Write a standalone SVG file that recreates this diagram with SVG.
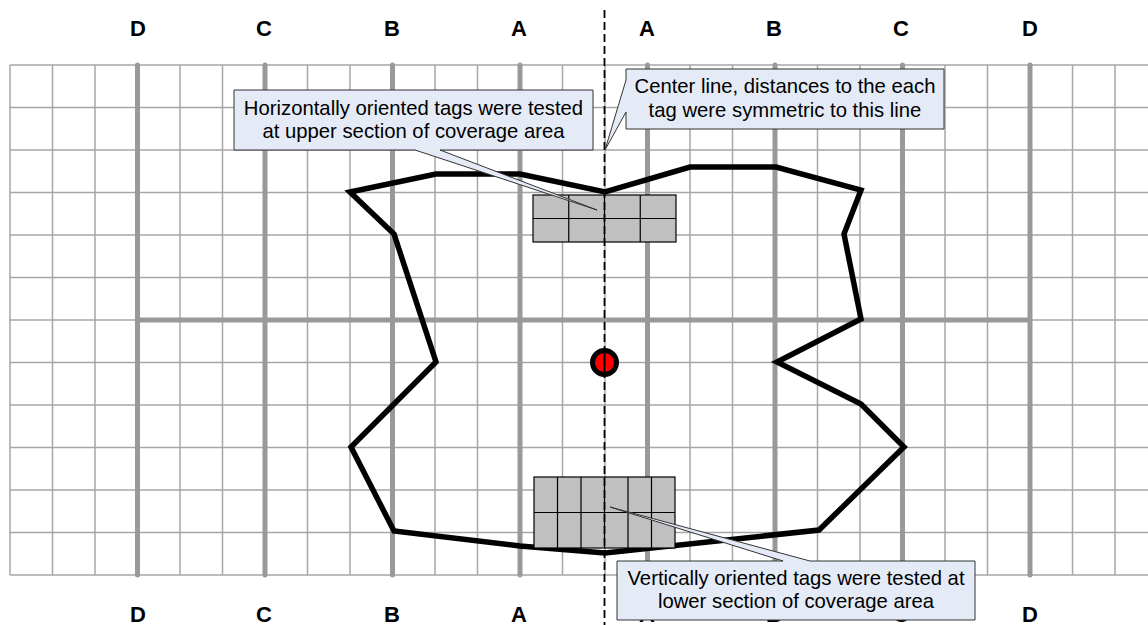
<svg xmlns="http://www.w3.org/2000/svg" width="1148" height="625" viewBox="0 0 1148 625">
<style>
.thin{stroke:#a6a6a6;stroke-width:1.5;fill:none}
.thick{stroke:#999999;stroke-width:5;stroke-linecap:round;fill:none}
.lbl{font-family:"Liberation Sans",Arial,sans-serif;font-size:22px;font-weight:bold;text-anchor:middle;fill:#000}
.ct{font-family:"Liberation Sans",Arial,sans-serif;font-size:20.3px;text-anchor:middle;fill:#000}
.callout{fill:#e4ebf6;stroke:#333;stroke-width:1}
.tag{fill:#c0c0c0;stroke:#000;stroke-width:1.2}
</style>
<rect width="1148" height="625" fill="#fff"/>
<g id="grid">
<path class="thin" d="M10,65V575M52.5,65V575M95,65V575M137.5,65V575M180,65V575M222.5,65V575M265,65V575M307.5,65V575M350,65V575M392.5,65V575M435,65V575M477.5,65V575M520,65V575M562.5,65V575M605,65V575M647.5,65V575M690,65V575M732.5,65V575M775,65V575M817.5,65V575M860,65V575M902.5,65V575M945,65V575M987.5,65V575M1030,65V575M1072.5,65V575M1115,65V575"/>
<path class="thin" d="M10,65H1148M10,107.5H1148M10,150H1148M10,192.5H1148M10,235H1148M10,277.5H1148M10,320H1148M10,362.5H1148M10,405H1148M10,447.5H1148M10,490H1148M10,532.5H1148M10,575H1148"/>
<path class="thick" d="M137.5,65V575M265,65V575M392.5,65V575M520,65V575M647.5,65V575M775,65V575M902.5,65V575M1030,65V575M137.5,320H1030"/>
</g>
<g id="labels">
<text class="lbl" x="138" y="36">D</text>
<text class="lbl" x="264" y="36">C</text>
<text class="lbl" x="392" y="36">B</text>
<text class="lbl" x="519" y="36">A</text>
<text class="lbl" x="647" y="36">A</text>
<text class="lbl" x="774" y="36">B</text>
<text class="lbl" x="901" y="36">C</text>
<text class="lbl" x="1030" y="36">D</text>
<text class="lbl" x="138" y="622">D</text>
<text class="lbl" x="264" y="622">C</text>
<text class="lbl" x="392" y="622">B</text>
<text class="lbl" x="519" y="622">A</text>
<text class="lbl" x="647" y="622">A</text>
<text class="lbl" x="774" y="622">B</text>
<text class="lbl" x="901" y="622">C</text>
<text class="lbl" x="1030" y="622">D</text>
</g>
<g id="coverage">
<polygon points="350,192 436,174 520,174 605,192 690,167 776,167 861,190 844,234 861,319 777,362 861,404 904,447 819,530 605,553 520,546 394,531 351,447 436,362 394,234" fill="none" stroke="#000" stroke-width="5.5" stroke-linejoin="miter"/>
</g>
<g id="upper-tags">
<rect class="tag" x="533" y="195" width="143" height="47"/>
<path class="tag" d="M533,218.5H676M568.75,195V242M604.5,195V242M640.25,195V242"/>
</g>
<g id="lower-tags">
<rect class="tag" x="534" y="477" width="141" height="71"/>
<path class="tag" d="M534,512.5H675M557.5,477V548M581,477V548M604.5,477V548M628,477V548M651.5,477V548"/>
</g>
<g id="center-point">
<circle cx="604.5" cy="362.5" r="12" fill="#ff0000" stroke="#000" stroke-width="5"/>
</g>
<g id="connectors">
<line x1="604.5" y1="10" x2="604.5" y2="625" stroke="#000" stroke-width="1.8" stroke-dasharray="8,4"/>
<line x1="604.5" y1="350" x2="604.5" y2="375" stroke="#000" stroke-width="1.8"/>
</g>
<g id="callout-upper">
<path class="callout" d="M234,90H593V150H440L597,210L415,150H234Z"/>
<text class="ct" x="413.5" y="115">Horizontally oriented tags were tested</text>
<text class="ct" x="413.5" y="138">at upper section of coverage area</text>
</g>
<g id="callout-center">
<path class="callout" d="M626,69H944V129H626V112L605,150L626,80Z"/>
<text class="ct" x="785" y="93">Center line, distances to the each</text>
<text class="ct" x="785" y="117">tag were symmetric to this line</text>
</g>
<g id="callout-lower">
<path class="callout" d="M617,561H783L610,507L810,561H975V620H617Z"/>
<text class="ct" x="796" y="585">Vertically oriented tags were tested at</text>
<text class="ct" x="796" y="608">lower section of coverage area</text>
</g>
</svg>
